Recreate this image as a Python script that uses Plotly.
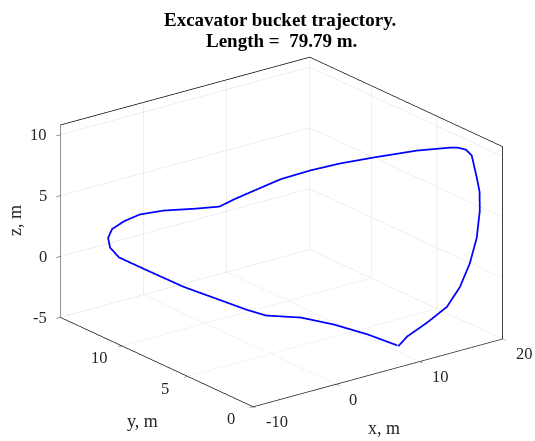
import plotly.graph_objects as go

# Trajectory of the excavator bucket (m)
x_m = [7.44, 8.68, 11.30, 13.93, 15.72, 17.15, 18.22, 18.82, 18.97, 18.77, 18.41, 17.93,
       17.29, 16.65, 13.97, 10.45, 7.77, 5.45, 3.12, 0.80, -0.56, -1.45, -2.93, -4.98,
       -6.27, -6.92, -7.41, -7.26, -6.70, -5.63, -3.86, -1.80, 0.13, 1.46, 2.59, 4.88,
       6.46, 7.68, 7.48]
y_m = [0.0, 0.1, 0.25, 0.4, 0.55, 0.7, 0.85, 1.0, 1.1, 1.2, 1.35, 1.5,
       1.7, 1.9, 2.7, 3.8, 4.6, 5.4, 6.2, 7.0, 7.5, 8.0, 8.8, 10.0,
       11.0, 11.8, 12.4, 12.8, 13.0, 13.0, 12.0, 10.5, 9.0, 7.8, 7.0, 5.8,
       4.3, 2.5, 0.1]
z_m = [-3.27, -2.74, -2.17, -1.43, -0.22, 1.38, 3.20, 5.20, 6.70, 7.93, 9.70, 10.19,
       10.37, 10.39, 10.25, 9.78, 9.40, 8.86, 8.17, 7.15, 6.51, 5.86, 5.57, 5.19,
       4.61, 3.77, 2.92, 1.97, 0.96, -0.04, -0.92, -1.92, -2.59, -3.04, -3.34, -3.33,
       -3.44, -3.58, -3.25]

x_range = [-10, 20]
y_range = [0, 14.7]
z_range = [-5, 10.8]
x_ticks = [-10, 0, 10, 20]
y_ticks = [0, 5, 10]
z_ticks = [-5, 0, 5, 10]

title_lines = ["Excavator bucket trajectory.", "Length =  79.79 m."]
x_label, y_label, z_label = "x, m", "y, m", "z, m"

FONT = "Liberation Serif"
TXT = "#262626"
tick_font = dict(family=FONT, size=16.5, color=TXT)
label_font = dict(family=FONT, size=18, color=TXT)
title_font = dict(family=FONT, size=19, color="black")

fig = go.Figure()
fig.add_trace(go.Scatter3d(x=x_m, y=y_m, z=z_m, mode="lines",
                           line=dict(color="rgb(0,0,255)", width=3.5),
                           showlegend=False, hoverinfo="skip"))

def ax(rng, ticks):
    return dict(title=dict(text=""), range=rng, tickvals=ticks, showticklabels=False,
                showbackground=False, gridcolor="#dedede", gridwidth=1,
                showline=True, linecolor="black", linewidth=1.5, mirror=True,
                zeroline=False, ticks="outside", ticklen=5, tickcolor="#262626",
                showspikes=False, autorange=False)

scene_ann = []
for t in x_ticks:
    scene_ann.append(dict(x=t, y=y_range[0], z=z_range[0], text=str(t), showarrow=False,
                          xanchor="left", yanchor="middle", xshift=11, yshift=-15,
                          font=tick_font))
for t in y_ticks:
    scene_ann.append(dict(x=x_range[0], y=t, z=z_range[0], text=str(t), showarrow=False,
                          xanchor="center", yanchor="middle", xshift=-22, yshift=-12,
                          font=tick_font))
for t in z_ticks:
    scene_ann.append(dict(x=x_range[0], y=y_range[1], z=t, text=str(t), showarrow=False,
                          xanchor="right", yanchor="middle", xshift=-11, yshift=0,
                          font=tick_font))

paper_ann = [
    dict(text="<b>%s</b>" % title_lines[0], x=280 / 535, y=1 - 19.4 / 441,
         xref="paper", yref="paper", showarrow=False, xanchor="center",
         yanchor="middle", font=title_font),
    dict(text="<b>%s</b>" % title_lines[1].replace("  ", " &nbsp;"), x=281 / 535,
         y=1 - 41 / 441, xref="paper", yref="paper", showarrow=False,
         xanchor="center", yanchor="middle", font=title_font),
    dict(text=x_label, x=384 / 535, y=1 - 428 / 441, xref="paper", yref="paper",
         showarrow=False, xanchor="center", yanchor="middle", font=label_font),
    dict(text=y_label, x=142 / 535, y=1 - 421 / 441, xref="paper", yref="paper",
         showarrow=False, xanchor="center", yanchor="middle", font=label_font),
    dict(text=z_label, x=15 / 535, y=1 - 221 / 441, xref="paper", yref="paper",
         showarrow=False, xanchor="center", yanchor="middle", textangle=-90,
         font=label_font),
]

S = 1.503
fig.update_layout(
    width=535, height=441, margin=dict(l=0, r=0, t=0, b=0),
    paper_bgcolor="white",
    scene=dict(
        domain=dict(x=[0.052, 1.0], y=[0.0, 0.948]),
        xaxis=ax(x_range, x_ticks),
        yaxis=ax(y_range, y_ticks),
        zaxis=ax(z_range, z_ticks),
        aspectmode="manual", aspectratio=dict(x=1 * S, y=1.01 * S, z=0.655 * S),
        camera=dict(eye=dict(x=-1.42, y=-1.855, z=0.8875), up=dict(x=0, y=0, z=1),
                    center=dict(x=0, y=0, z=0),
                    projection=dict(type="orthographic")),
        annotations=scene_ann,
    ),
    annotations=paper_ann,
)
fig.write_html("out.html")
